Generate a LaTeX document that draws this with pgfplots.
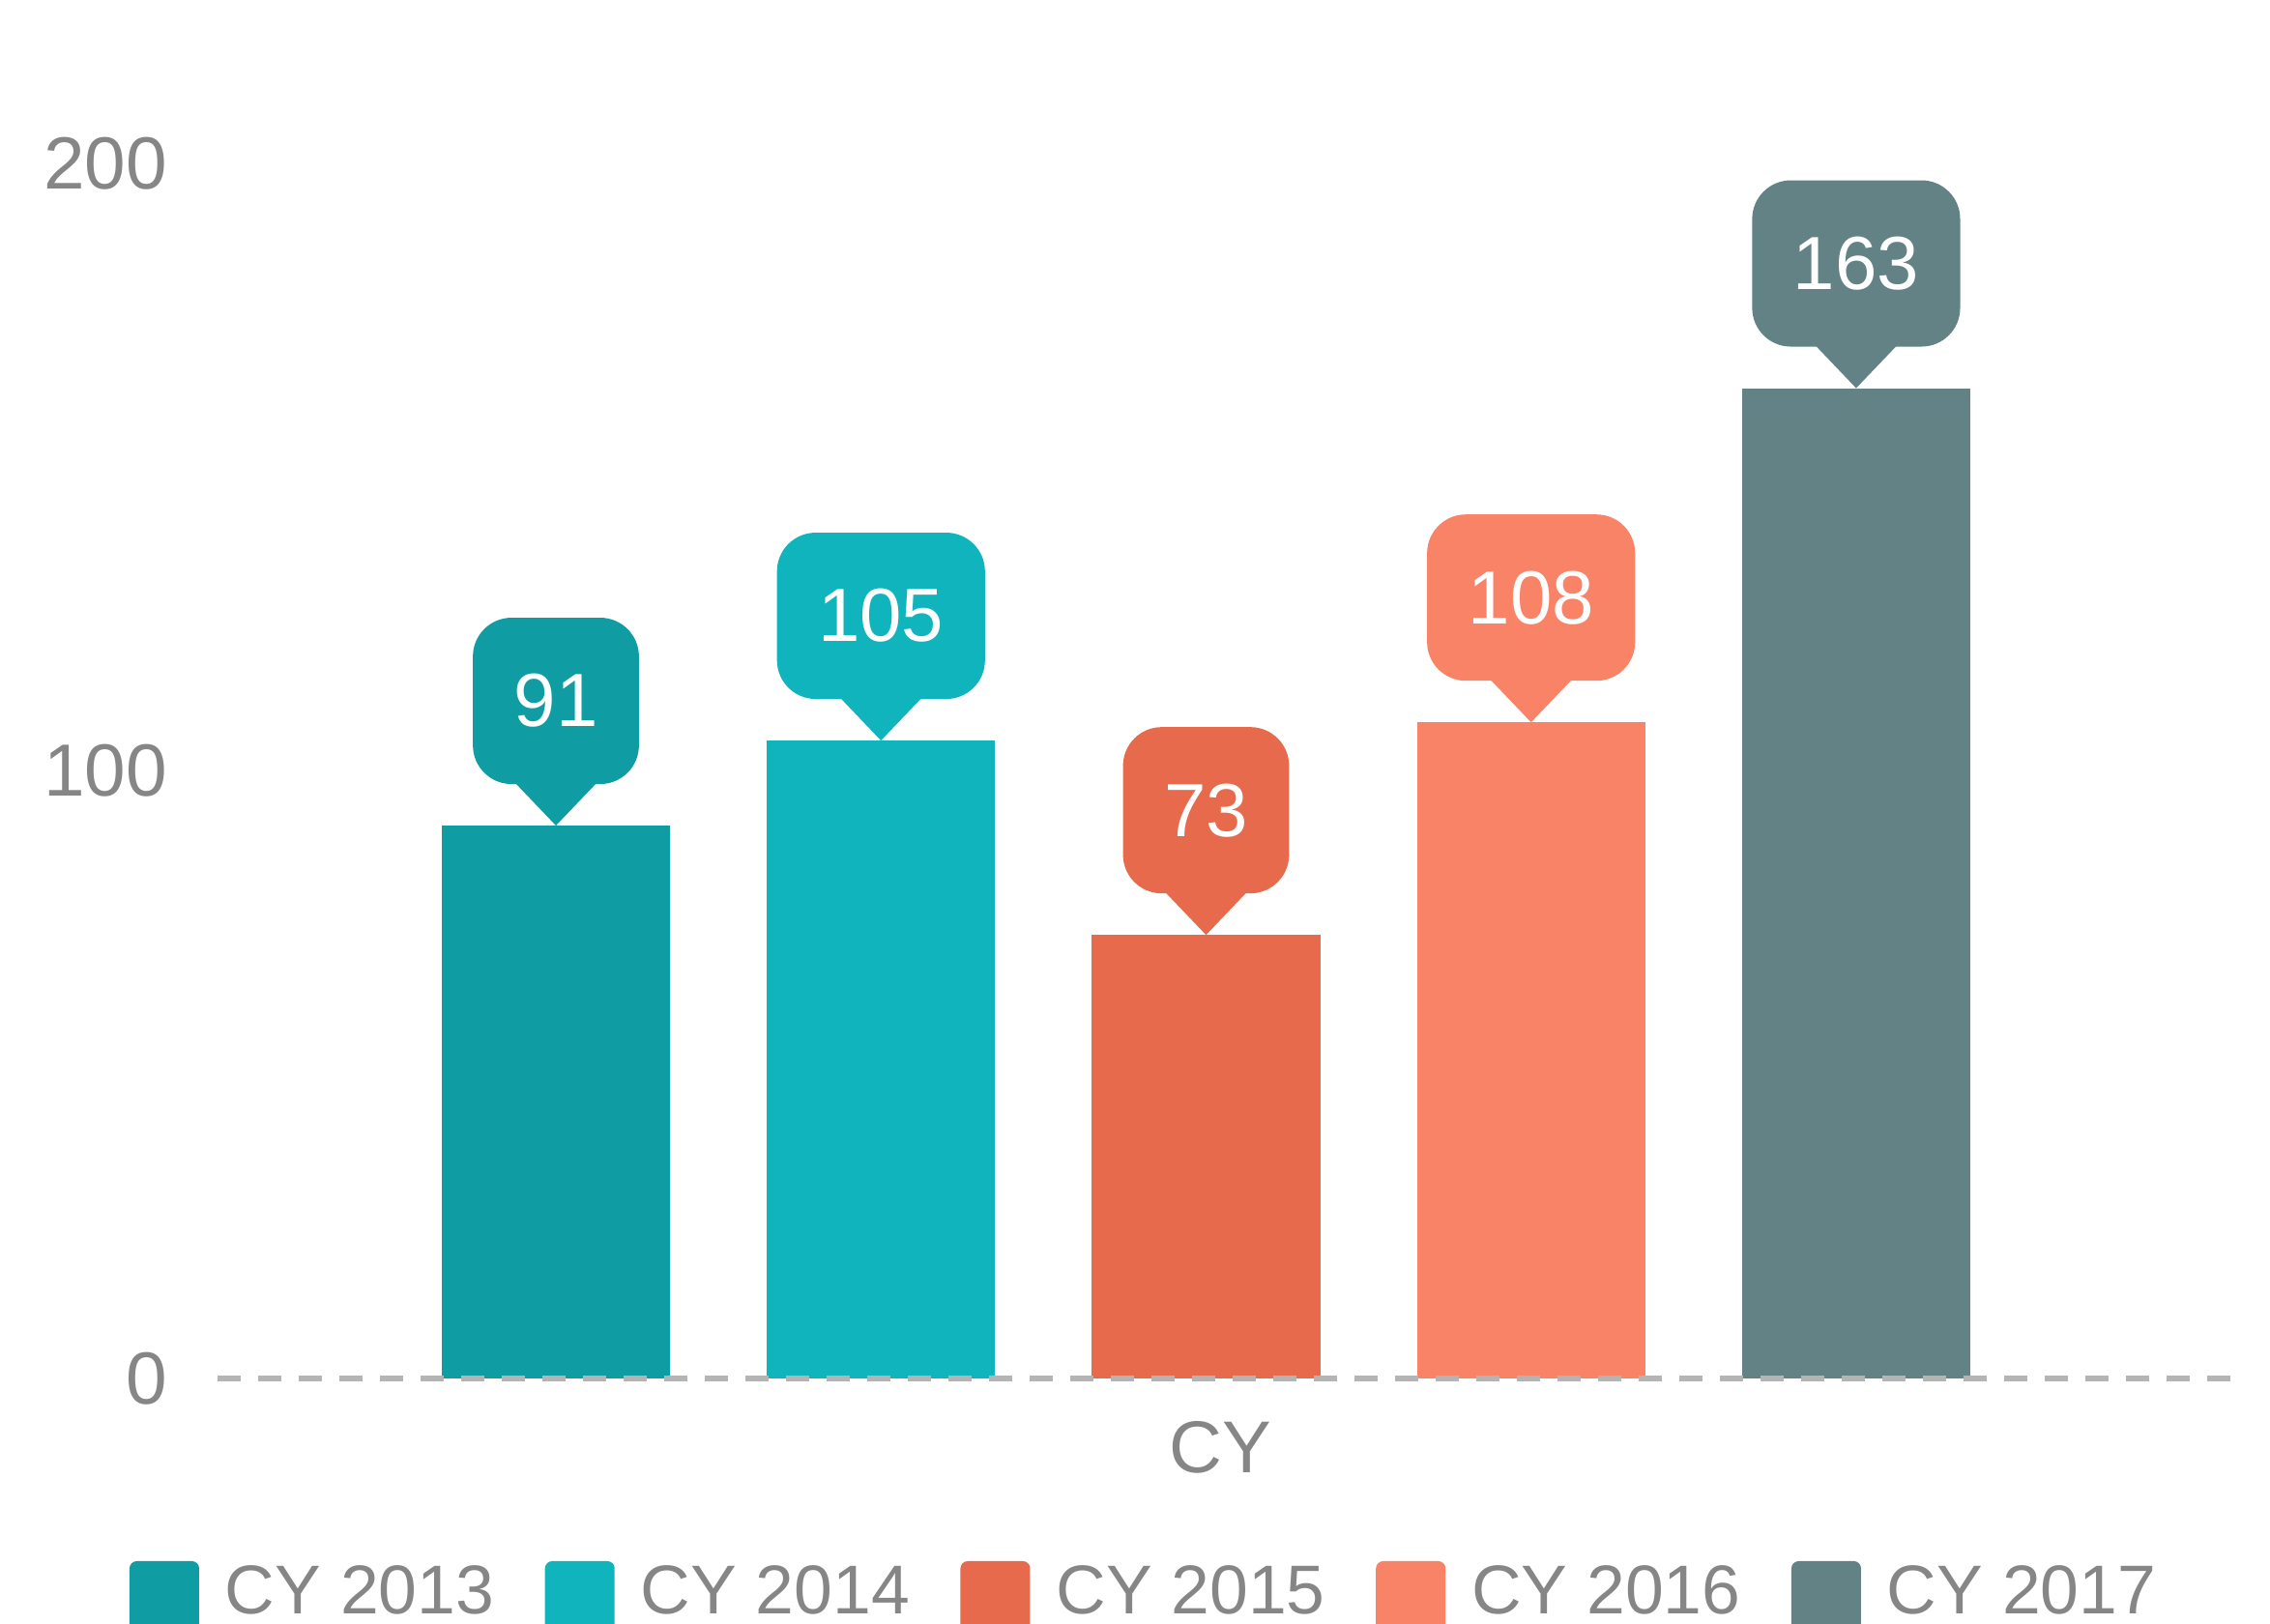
\documentclass[border=0pt]{standalone}
\usepackage{fontspec}
\setmainfont{Liberation Sans}
\usepackage{pgfplots}
\pgfplotsset{compat=1.18}

\definecolor{c1}{HTML}{0F9DA3}
\definecolor{c2}{HTML}{10B4BC}
\definecolor{c3}{HTML}{E66A4B}
\definecolor{c4}{HTML}{F98366}
\definecolor{c5}{HTML}{628286}
\definecolor{tickgray}{HTML}{868686}
\definecolor{dashgray}{HTML}{B4B4B4}

% bar + rounded callout label with a pointer
\pgfplotsset{
  callout/.style={
    ybar, bar width=0.702, bar shift=0pt,
    fill=#1, draw=none,
    nodes near coords,
    every node near coord/.append style={
      fill=#1, text=white, rounded corners=8pt,
      anchor=south, yshift=8.4pt,
      minimum height=34.4pt, inner xsep=8.5pt, inner ysep=0pt,
      font=\fontsize{15.6}{18}\selectfont,
      append after command={\pgfextra{%
        \fill[#1] ([xshift=-8.4pt,yshift=0.4pt]\tikzlastnode.south)
          -- ([xshift=8.4pt,yshift=0.4pt]\tikzlastnode.south)
          -- ([yshift=-8.4pt]\tikzlastnode.south) -- cycle;}},
    },
  },
}

\begin{document}
\begin{tikzpicture}
\begin{axis}[
  at={(45pt,50.8pt)}, anchor=south west,
  scale only axis, width=417.4pt, height=285.2pt,
  xmin=-1.041, xmax=5.166, ymin=0, ymax=226.9,
  axis on top,
  axis x line*=bottom, axis y line*=left,
  x axis line style={draw=dashgray, line width=1.2pt, dash pattern=on 4.8pt off 3.6pt},
  y axis line style={draw=none},
  xtick=\empty, ytick={0,100,200},
  major tick length=0pt,
  /pgf/number format/assume math mode=true,
  yticklabel style={font=\fontsize{15.3}{18}\selectfont, text=tickgray,
    anchor=east, inner sep=0pt, xshift=-10.2pt},
  xlabel={CY},
  xlabel style={at={(axis description cs:0.497,0)}, anchor=base,
    yshift=-19.6pt, inner sep=0pt, font=\fontsize{15.2}{18}\selectfont, text=tickgray},
  legend columns=5,
  legend image code/.code={\fill[#1, rounded corners=1.5pt] (0pt,-14pt) rectangle (14.4pt,6.6pt);},
  legend style={at={(axis description cs:-0.04408,-0.13184)}, anchor=north west,
    draw=none, fill=none, inner sep=0pt,
    font=\fontsize{14.3}{17}\selectfont, text=tickgray,
    nodes={inner sep=0pt},
    /tikz/every odd column/.append style={column sep=5.4pt},
    /tikz/every even column/.append style={column sep=10.5pt}},
]
\addplot[callout=c1] coordinates {(0,91)};
\addlegendentry{CY 2013}
\addplot[callout=c2] coordinates {(1,105)};
\addlegendentry{CY 2014}
\addplot[callout=c3] coordinates {(2,73)};
\addlegendentry{CY 2015}
\addplot[callout=c4] coordinates {(3,108)};
\addlegendentry{CY 2016}
\addplot[callout=c5] coordinates {(4,163)};
\addlegendentry{CY 2017}
\end{axis}
\pgfresetboundingbox
\useasboundingbox (0,0) rectangle (469.6pt,336pt);
\end{tikzpicture}
\end{document}
